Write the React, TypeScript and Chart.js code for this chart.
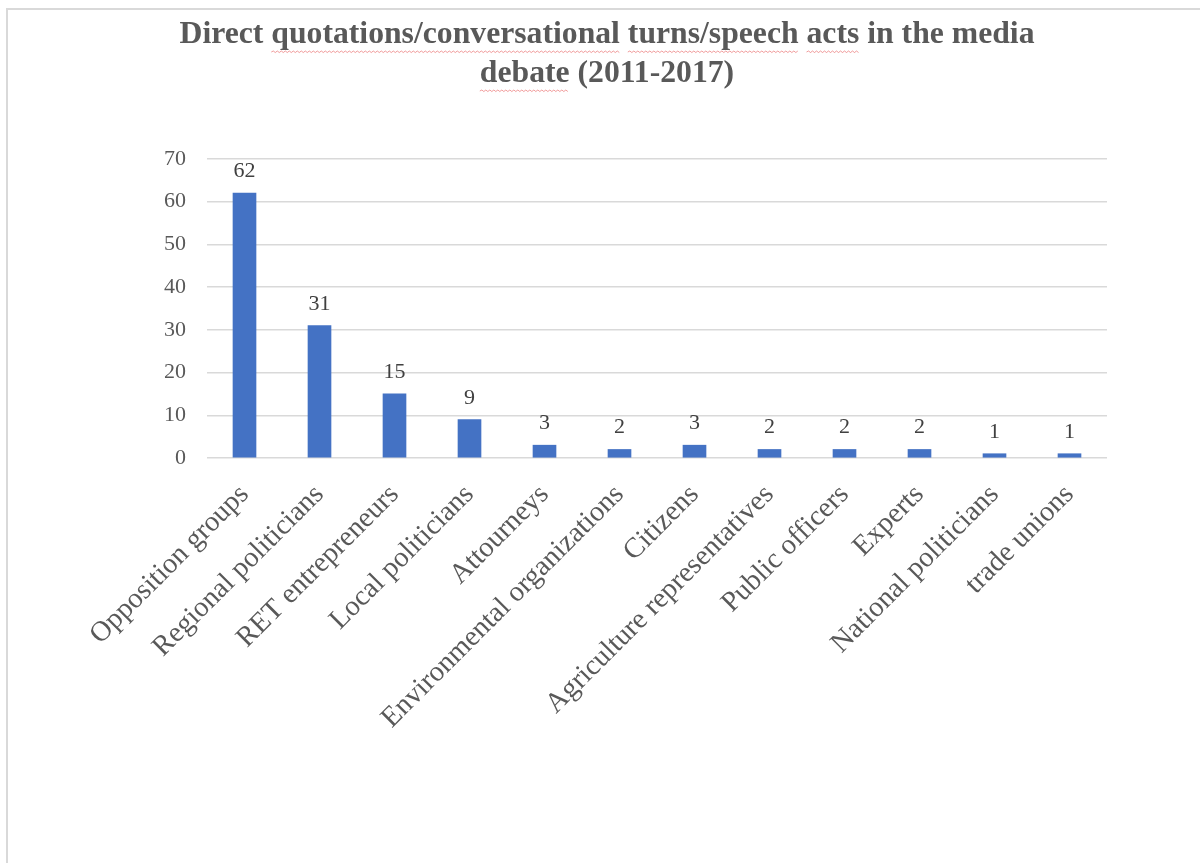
import React, { useEffect, useRef } from "react";
import { Chart, registerables } from "chart.js";

Chart.register(...registerables);

const categories = [
  "Opposition groups",
  "Regional politicians",
  "RET entrepreneurs",
  "Local politicians",
  "Attourneys",
  "Environmental organizations",
  "Citizens",
  "Agriculture representatives",
  "Public officers",
  "Experts",
  "National politicians",
  "trade unions",
];
const counts = [62, 31, 15, 9, 3, 2, 3, 2, 2, 2, 1, 1];
const yMin = 0;
const yMax = 70;
const yStep = 10;
const titleLines = [
  "Direct quotations/conversational turns/speech acts in the media",
  "debate (2011-2017)",
];
const flaggedWords = ["quotations/conversational", "turns/speech", "acts", "debate"];

const SERIF = "'Liberation Serif', 'Times New Roman', serif";

export default function App() {
  const ref = useRef<HTMLCanvasElement | null>(null);

  useEffect(() => {
    if (!ref.current) return;

    const titlePlugin = {
      id: "titleDraw",
      afterDraw(chart: any) {
        const ctx = chart.ctx as CanvasRenderingContext2D;
        ctx.save();
        ctx.font = `bold 31.7px ${SERIF}`;
        ctx.fillStyle = "#595959";
        ctx.textAlign = "left";
        ctx.textBaseline = "alphabetic";
        titleLines.forEach((line, i) => {
          const w = ctx.measureText(line).width;
          const x0 = 607 - w / 2;
          const y = 43 + i * 39;
          ctx.fillText(line, x0, y);
          flaggedWords.forEach((word) => {
            const idx = line.indexOf(word);
            if (idx < 0) return;
            const px = ctx.measureText(line.slice(0, idx)).width;
            const ww = ctx.measureText(word).width;
            const sx = x0 + px;
            const ex = sx + ww;
            const uy = y + 9;
            ctx.save();
            ctx.strokeStyle = "rgba(230,90,90,0.6)";
            ctx.lineWidth = 1;
            ctx.beginPath();
            let up = true;
            ctx.moveTo(sx, uy);
            for (let xx = sx + 2; xx <= ex; xx += 2) {
              ctx.lineTo(xx, uy + (up ? -1 : 0.5));
              up = !up;
            }
            ctx.stroke();
            ctx.restore();
          });
        });
        ctx.restore();
      },
    };

    const valuePlugin = {
      id: "valueLabels",
      afterDatasetsDraw(chart: any) {
        const ctx = chart.ctx as CanvasRenderingContext2D;
        const meta = chart.getDatasetMeta(0);
        ctx.save();
        ctx.font = `22px ${SERIF}`;
        ctx.fillStyle = "#404040";
        ctx.textAlign = "center";
        ctx.textBaseline = "alphabetic";
        meta.data.forEach((el: any, i: number) => {
          ctx.fillText(String(counts[i]), el.x, el.y - 16);
        });
        ctx.restore();
      },
    };

    const chart = new Chart(ref.current, {
      type: "bar",
      data: {
        labels: categories,
        datasets: [
          {
            data: counts,
            backgroundColor: "#4472C4",
            borderWidth: 0,
            barThickness: 23,
          },
        ],
      },
      options: {
        responsive: false,
        animation: false,
        layout: { padding: { left: 0, right: 93, top: 159, bottom: 0 } },
        plugins: {
          legend: { display: false },
          tooltip: { enabled: false },
          title: { display: false },
        },
        scales: {
          x: {
            grid: { display: false },
            border: { display: false },
            ticks: {
              font: { family: SERIF, size: 28.5 },
              color: "#595959",
              minRotation: 45,
              maxRotation: 45,
              autoSkip: false,
              padding: 12,
            },
            afterFit(scale: any) {
              scale.height = 405;
            },
          },
          y: {
            min: yMin,
            max: yMax,
            grid: { color: "#d9d9d9", lineWidth: 1.5, drawTicks: false },
            border: { display: false },
            ticks: {
              stepSize: yStep,
              font: { family: SERIF, size: 22 },
              color: "#595959",
              padding: 21,
            },
            afterFit(scale: any) {
              scale.width = 207;
            },
          },
        },
      },
      plugins: [titlePlugin, valuePlugin],
    });

    return () => chart.destroy();
  }, []);

  return (
    <>
      <div
        style={{
          position: "fixed",
          left: 6,
          top: 8,
          width: 1194,
          height: 855,
          borderLeft: "2px solid #d9d9d9",
          borderTop: "2px solid #d9d9d9",
          boxSizing: "border-box",
        }}
      />
      <canvas
        ref={ref}
        width={1200}
        height={863}
        style={{ position: "fixed", left: 0, top: 0, width: 1200, height: 863 }}
      />
    </>
  );
}
